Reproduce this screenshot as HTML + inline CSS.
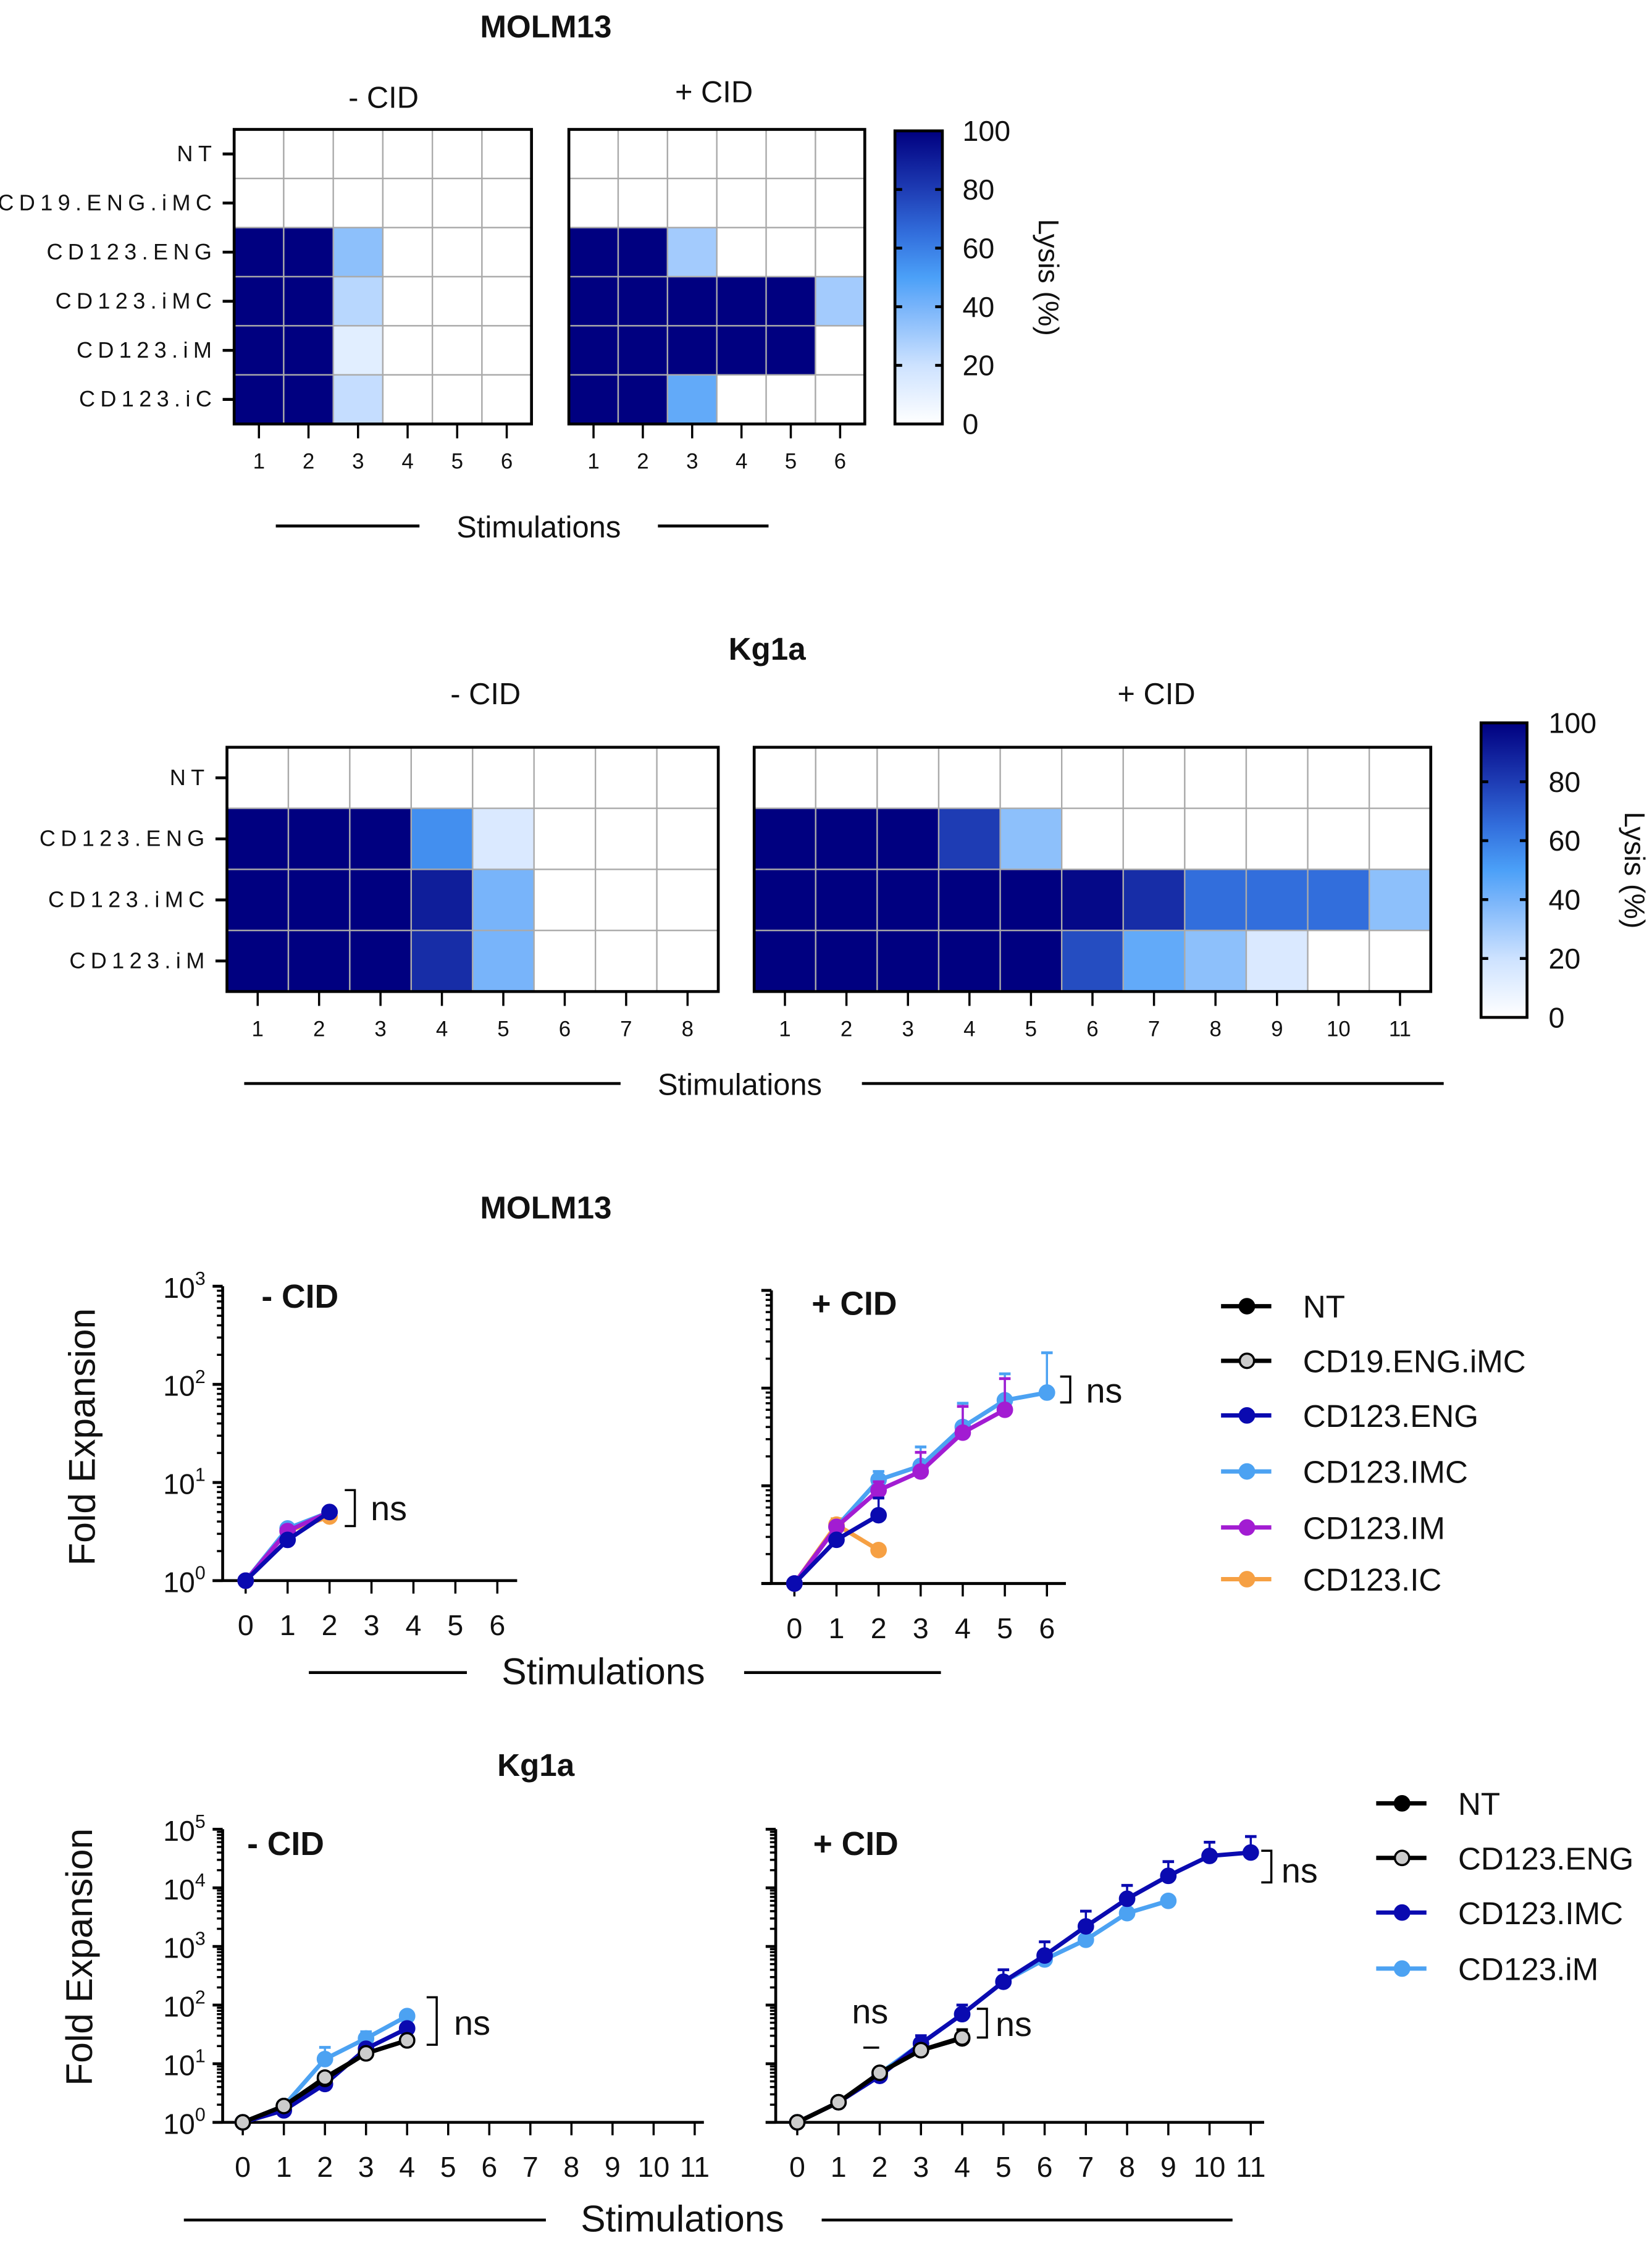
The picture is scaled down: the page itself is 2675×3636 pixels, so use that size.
<!DOCTYPE html>
<html><head><meta charset="utf-8"><style>
html,body{margin:0;padding:0;background:#fff}
svg{display:block}
text{font-family:"Liberation Sans",sans-serif;fill:#111}
</style></head><body>
<svg id="fig" xmlns="http://www.w3.org/2000/svg" width="2675" height="3636" viewBox="0 0 1150 1563"></svg>
<script>
// ---------- DATA ----------
const molmRows = ["NT","CD19.ENG.iMC","CD123.ENG","CD123.iMC","CD123.iM","CD123.iC"];
const molmStims = [1,2,3,4,5,6];
const molmMinus = [[0,0,0,0,0,0],[0,0,0,0,0,0],[100,100,35,0,0,0],[100,100,25,0,0,0],[100,100,12,0,0,0],[100,100,22,0,0,0]];
const molmPlus  = [[0,0,0,0,0,0],[0,0,0,0,0,0],[100,100,30,0,0,0],[100,100,100,100,100,30],[100,100,100,100,100,0],[100,100,45,0,0,0]];
const kgRows = ["NT","CD123.ENG","CD123.iMC","CD123.iM"];
const kgStimsMinus = [1,2,3,4,5,6,7,8];
const kgStimsPlus = [1,2,3,4,5,6,7,8,9,10,11];
const kgMinus = [[0,0,0,0,0,0,0,0],[100,100,100,55,15,0,0,0],[100,100,100,90,40,0,0,0],[100,100,100,85,40,0,0,0]];
const kgPlus  = [[0,0,0,0,0,0,0,0,0,0,0],[100,100,100,80,35,0,0,0,0,0,0],[100,100,100,100,100,97,85,65,65,65,35],[100,100,100,100,100,75,45,35,15,0,0]];
const cbTicks = [0,20,40,60,80,100];

// Line charts: [stim, value, errUpper or null]
const mMinusENG = [[0,1,null],[1,2.6,null],[2,5.0,null]];
const mMinusIMC = [[0,1,null],[1,3.4,null],[2,5.0,null]];
const mMinusIM  = [[0,1,null],[1,3.2,null],[2,5.0,null]];
const mMinusIC  = [[0,1,null],[1,3.2,null],[2,4.5,null]];
const mMinusNT  = [[0,1,null]];
const mPlusIC   = [[0,1,null],[1,4.0,4.6],[2,2.2,null]];
const mPlusENG  = [[0,1,null],[1,2.8,null],[2,5.0,7.5]];
const mPlusIM   = [[0,1,null],[1,3.8,null],[2,9,11],[3,14,22],[4,35,65],[5,60,125]];
const mPlusIMC  = [[0,1,null],[1,3.8,null],[2,11.5,14],[3,16,25],[4,40,70],[5,75,140],[6,90,230]];
const mPlusNT   = [[0,1,null]];
const kMinusNT  = [[0,1,null],[1,1.9,null],[2,5.5,null],[3,15,null],[4,25,null]];
const kMinusENG = [[0,1,null],[1,1.9,null],[2,5.8,null],[3,15,null],[4,25,null]];
const kMinusIMC = [[0,1,null],[1,1.6,null],[2,4.5,null],[3,18,null],[4,40,null]];
const kMinusIM  = [[0,1,null],[1,1.9,null],[2,12,19],[3,27,35],[4,65,75]];
const kPlusNT   = [[0,1,null],[1,2.2,null],[2,7,null],[3,17,null],[4,27,null]];
const kPlusENG  = [[0,1,null],[1,2.2,null],[2,7,null],[3,17,null],[4,28,38]];
const kPlusIM   = [[0,1,null],[1,2.2,null],[2,6.8,null],[3,22,null],[4,70,null],[5,250,null],[6,600,null],[7,1300,null],[8,3700,null],[9,6000,null]];
const kPlusIMC  = [[0,1,null],[1,2.2,null],[2,6.2,null],[3,22,30],[4,70,100],[5,250,400],[6,700,1200],[7,2200,4000],[8,6500,11000],[9,16000,28000],[10,35000,60000],[11,40000,75000]];
const xTicks6 = [0,1,2,3,4,5,6];
const xTicks11 = [0,1,2,3,4,5,6,7,8,9,10,11];

// ---------- HELPERS ----------
const NS="http://www.w3.org/2000/svg";
const svg=document.getElementById('fig');
function mk(tag,attrs,parent){const e=document.createElementNS(NS,tag);for(const k in attrs)e.setAttribute(k,attrs[k]);(parent||svg).appendChild(e);return e;}
function txt(x,y,s,attrs,name){const t=mk('text',Object.assign({x:x,y:y},attrs||{}));t.textContent=s;


return t;}
const stops=[[0,[255,255,255]],[20,[205,226,255]],[40,[120,180,250]],[50,[75,160,248]],[65,[50,110,220]],[80,[30,60,180]],[100,[0,0,128]]];
function cmap(v){for(let i=1;i<stops.length;i++){if(v<=stops[i][0]){const a=stops[i-1],b=stops[i],t=(v-a[0])/(b[0]-a[0]);const c=a[1].map((x,j)=>Math.round(x+(b[1][j]-x)*t));return `rgb(${c})`;}}return 'rgb(0,0,128)';}

function heatmap(x0,y0,w,h,rows,stims,vals,showRowLabels,name){
  const g=mk('g',{});
  
  
  const cw=w/stims.length, rh=h/rows.length;
  vals.forEach((r,i)=>r.forEach((v,j)=>{
    const c=mk('rect',{x:x0+j*cw,y:y0+i*rh,width:cw,height:rh,fill:cmap(v),stroke:'#aaa','stroke-width':1},g);
    
    
  }));
  mk('rect',{x:x0,y:y0,width:w,height:h,fill:'none',stroke:'#000','stroke-width':2},g);
  stims.forEach((s,j)=>{const cx=x0+(j+.5)*cw;mk('line',{x1:cx,x2:cx,y1:y0+h,y2:y0+h+10,stroke:'#000','stroke-width':1.5},g);
    txt(cx,y0+h+31,String(s),{'text-anchor':'middle','font-size':15},'x-tick-label');});
  if(showRowLabels) rows.forEach((r,i)=>{const cy=y0+(i+.5)*rh;mk('line',{x1:x0-8,x2:x0,y1:cy,y2:cy,stroke:'#000','stroke-width':2},g);
    txt(x0-12,cy+5,r,{'text-anchor':'end','font-size':15.5,'letter-spacing':3.6},'row-label');});
}
function colorbar(x0,y0,w,h,lx,name){
  const id='grad'+name;const defs=mk('defs',{});const lg=mk('linearGradient',{id:id,x1:0,y1:1,x2:0,y2:0},defs);
  stops.forEach(s=>mk('stop',{offset:s[0]+'%','stop-color':cmap(s[0])},lg));
  const r=mk('rect',{x:x0,y:y0,width:w,height:h,fill:`url(#${id})`,stroke:'#000','stroke-width':2});
  
  
  cbTicks.forEach(t=>{const y=y0+h-t/100*h;if(t>0&&t<100){mk('line',{x1:x0,x2:x0+5,y1:y,y2:y,stroke:'#000','stroke-width':2});mk('line',{x1:x0+w-5,x2:x0+w,y1:y,y2:y,stroke:'#000','stroke-width':2});}
    txt(lx,y+7,String(t),{'font-size':20},'colorbar-tick-label');});
  txt(0,0,'Lysis (%)',{'font-size':20,'text-anchor':'middle',transform:`translate(${lx+53},${y0+h/2}) rotate(90)`},'colorbar-title');
}
function stimLabel(cx,y,l1,l2,r1,r2,fs){txt(cx,y+8,'Stimulations',{'font-size':fs,'text-anchor':'middle'},'x-axis-title');
  mk('line',{x1:l1,x2:l2,y1:y,y2:y,stroke:'#000','stroke-width':2});mk('line',{x1:r1,x2:r2,y1:y,y2:y,stroke:'#000','stroke-width':2});}

// ---------- HEATMAPS ----------
txt(380,26,'MOLM13',{'font-size':22,'font-weight':'bold','text-anchor':'middle'},'title-molm13-heatmap');
txt(267,75,'- CID',{'font-size':21,'text-anchor':'middle'},'panel-title-minus-cid');
txt(497,71,'+ CID',{'font-size':21,'text-anchor':'middle'},'panel-title-plus-cid');
heatmap(163,90,207,205,molmRows,molmStims,molmMinus,true,'molm13-heatmap-minus-cid');
heatmap(396,90,206,205,molmRows,molmStims,molmPlus,false,'molm13-heatmap-plus-cid');
colorbar(623,91,33,204,670,'molm13-colorbar');
stimLabel(375,366,192,292,458,535,21);

txt(534,459,'Kg1a',{'font-size':22,'font-weight':'bold','text-anchor':'middle'},'title-kg1a-heatmap');
txt(338,490,'- CID',{'font-size':21,'text-anchor':'middle'},'panel-title-minus-cid');
txt(805,490,'+ CID',{'font-size':21,'text-anchor':'middle'},'panel-title-plus-cid');
heatmap(158,520,342,170,kgRows,kgStimsMinus,kgMinus,true,'kg1a-heatmap-minus-cid');
heatmap(525,520,471,170,kgRows,kgStimsPlus,kgPlus,false,'kg1a-heatmap-plus-cid');
colorbar(1031,503,32,205,1078,'kg1a-colorbar');
stimLabel(515,754,170,432,600,1005,21);

// ---------- LINE CHARTS ----------
const COL={NT:'#000',CD19:'#000',ENG:'#0a0ab0',IMC:'#4ca2f2',IM:'#a21cd2',IC:'#f6a043'};
function logChart(o){
  const yS=v=>o.y0-Math.log10(v)*o.dec; const xS=s=>o.x0+s*o.dx;
  const g=mk('g',{});
  
  
  const top=yS(Math.pow(10,o.maxExp));
  mk('line',{x1:o.ax,x2:o.ax,y1:top,y2:o.y0,stroke:'#000','stroke-width':2},g);
  for(let e=0;e<=o.maxExp;e++){const y=yS(Math.pow(10,e));mk('line',{x1:o.ax-7,x2:o.ax,y1:y,y2:y,stroke:'#000','stroke-width':2},g);
    if(o.labels){const t=mk('text',{x:o.ax-12,y:y+8,'text-anchor':'end','font-size':20},g);t.textContent='10';const sp=mk('tspan',{dy:-9,'font-size':13},t);sp.textContent=String(e);
      
      }
    if(e<o.maxExp)for(let m=2;m<=9;m++){const yy=yS(m*Math.pow(10,e));mk('line',{x1:o.ax-4,x2:o.ax,y1:yy,y2:yy,stroke:'#000','stroke-width':1.5},g);}}
  mk('line',{x1:o.ax-7,x2:o.xEnd,y1:o.y0,y2:o.y0,stroke:'#000','stroke-width':2},g);
  o.ticks.forEach(s=>{const x=xS(s);mk('line',{x1:x,x2:x,y1:o.y0,y2:o.y0+9,stroke:'#000','stroke-width':1.5},g);
    txt(x,o.y0+38,String(s),{'font-size':20,'text-anchor':'middle'},'x-tick-label');});
  o.series.forEach(([d,c,fill,nm])=>{
    d.forEach(p=>{if(p[2]!=null){const x=xS(p[0]);mk('line',{x1:x,x2:x,y1:yS(p[1]),y2:yS(p[2]),stroke:c,'stroke-width':1.5},g);mk('line',{x1:x-4,x2:x+4,y1:yS(p[2]),y2:yS(p[2]),stroke:c,'stroke-width':2},g);}});
    const pl=mk('polyline',{points:d.map(p=>xS(p[0])+','+yS(p[1])).join(' '),fill:'none',stroke:c,'stroke-width':3},g);
    
    
    d.forEach(p=>{const ci=mk('circle',{cx:xS(p[0]),cy:yS(p[1]),r:5,fill:fill,stroke:c,'stroke-width':1.5},g);
      
      });
  });
}
function bracket(x,y1,y2,lx,ly){mk('polyline',{points:`${x},${y1} ${x+7},${y1} ${x+7},${y2} ${x},${y2}`,fill:'none',stroke:'#000','stroke-width':1.5});
  txt(lx,ly,'ns',{'font-size':24},'ns-annotation');}
function legend(lx,tx,ys,items){items.forEach((it,i)=>{const y=ys[i];mk('line',{x1:lx,x2:lx+35,y1:y,y2:y,stroke:it[1],'stroke-width':3});
  const c=mk('circle',{cx:lx+18,cy:y,r:5,fill:it[2],stroke:it[1],'stroke-width':1.5});
  
  
  txt(tx,y+8,it[0],{'font-size':22},'legend-entry');});}

txt(380,848,'MOLM13',{'font-size':22,'font-weight':'bold','text-anchor':'middle'},'title-molm13-expansion');
txt(0,0,'Fold Expansion',{'font-size':26,'text-anchor':'middle',transform:'translate(66,1000) rotate(-90)'},'y-axis-title');
logChart({name:'molm13-minus-cid',ax:155,y0:1100,dec:68.3,maxExp:3,x0:171,dx:29.2,xEnd:360,ticks:xTicks6,labels:true,
  series:[[mMinusNT,COL.NT,COL.NT,'nt'],[mMinusIC,COL.IC,COL.IC,'cd123-ic'],[mMinusIMC,COL.IMC,COL.IMC,'cd123-imc'],[mMinusIM,COL.IM,COL.IM,'cd123-im'],[mMinusENG,COL.ENG,COL.ENG,'cd123-eng']]});
txt(182,910,'- CID',{'font-size':23,'font-weight':'bold'},'panel-title-minus-cid');
logChart({name:'molm13-plus-cid',ax:537,y0:1102,dec:68,maxExp:3,x0:553,dx:29.3,xEnd:742,ticks:xTicks6,labels:false,
  series:[[mPlusNT,COL.NT,COL.NT,'nt'],[mPlusIC,COL.IC,COL.IC,'cd123-ic'],[mPlusIMC,COL.IMC,COL.IMC,'cd123-imc'],[mPlusIM,COL.IM,COL.IM,'cd123-im'],[mPlusENG,COL.ENG,COL.ENG,'cd123-eng']]});
txt(565,915,'+ CID',{'font-size':23,'font-weight':'bold'},'panel-title-plus-cid');
bracket(240,1037,1062,258,1058);
bracket(738,958,976,756,976);
legend(850,907,[909,947,985,1024,1063,1099],[['NT',COL.NT,COL.NT],['CD19.ENG.iMC','#000','#ccc'],['CD123.ENG',COL.ENG,COL.ENG],['CD123.IMC',COL.IMC,COL.IMC],['CD123.IM',COL.IM,COL.IM],['CD123.IC',COL.IC,COL.IC]]);
stimLabel(420,1164,215,325,518,655,26);

txt(373,1236,'Kg1a',{'font-size':22,'font-weight':'bold','text-anchor':'middle'},'title-kg1a-expansion');
txt(0,0,'Fold Expansion',{'font-size':26,'text-anchor':'middle',transform:'translate(64,1362) rotate(-90)'},'y-axis-title');
logChart({name:'kg1a-minus-cid',ax:155,y0:1477,dec:40.8,maxExp:5,x0:169,dx:28.6,xEnd:490,ticks:xTicks11,labels:true,
  series:[[kMinusIM,COL.IMC,COL.IMC,'cd123-im'],[kMinusIMC,COL.ENG,COL.ENG,'cd123-imc'],[kMinusNT,COL.NT,COL.NT,'nt'],[kMinusENG,'#000','#ccc','cd123-eng']]});
txt(172,1291,'- CID',{'font-size':23,'font-weight':'bold'},'panel-title-minus-cid');
logChart({name:'kg1a-plus-cid',ax:540,y0:1477,dec:40.8,maxExp:5,x0:555,dx:28.7,xEnd:880,ticks:xTicks11,labels:false,
  series:[[kPlusIM,COL.IMC,COL.IMC,'cd123-im'],[kPlusIMC,COL.ENG,COL.ENG,'cd123-imc'],[kPlusNT,COL.NT,COL.NT,'nt'],[kPlusENG,'#000','#ccc','cd123-eng']]});
txt(566,1291,'+ CID',{'font-size':23,'font-weight':'bold'},'panel-title-plus-cid');
bracket(297,1390,1423,316,1416);
bracket(878,1288,1310,892,1310);
bracket(680,1398,1418,693,1417);
txt(593,1408,'ns',{'font-size':24},'ns-annotation');
mk('line',{x1:601,x2:612,y1:1425,y2:1425,stroke:'#000','stroke-width':1.5});
legend(958,1015,[1255,1293,1331,1370],[['NT',COL.NT,COL.NT],['CD123.ENG','#000','#ccc'],['CD123.IMC',COL.ENG,COL.ENG],['CD123.iM',COL.IMC,COL.IMC]]);
stimLabel(475,1545,128,380,572,858,26);
</script>
</body></html>
